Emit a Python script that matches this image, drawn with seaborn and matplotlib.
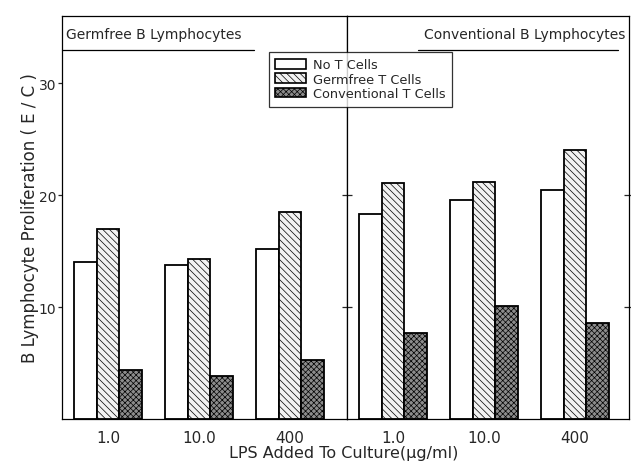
import matplotlib
matplotlib.use("Agg")
import matplotlib.pyplot as plt
import seaborn as sns
import pandas as pd
from matplotlib.patches import Patch

# --- data ---------------------------------------------------------------
lps_labels = ["1.0", "10.0", "400"]
t_cell_groups = ["No T Cells", "Germfree T Cells", "Conventional T Cells"]

germfree_b_none = [14.0, 13.8, 15.2]
germfree_b_germfree_t = [17.0, 14.3, 18.5]
germfree_b_conventional_t = [4.4, 3.8, 5.3]

conventional_b_none = [18.3, 19.6, 20.5]
conventional_b_germfree_t = [21.1, 21.2, 24.0]
conventional_b_conventional_t = [7.7, 10.1, 8.6]

panel_titles = ["Germfree B Lymphocytes", "Conventional B Lymphocytes"]


def make_frame(none, gf, conv):
    rows = []
    for series, vals in zip(t_cell_groups, [none, gf, conv]):
        for lab, v in zip(lps_labels, vals):
            rows.append({"lps": lab, "tcells": series, "value": v})
    return pd.DataFrame(rows)


frames = [
    make_frame(germfree_b_none, germfree_b_germfree_t, germfree_b_conventional_t),
    make_frame(conventional_b_none, conventional_b_germfree_t, conventional_b_conventional_t),
]

# --- styling ------------------------------------------------------------
sns.set_theme(style="ticks")
plt.rcParams["font.family"] = ["DejaVu Sans"]
plt.rcParams["hatch.linewidth"] = 0.5

styles = {
    "No T Cells": dict(facecolor="white", hatch=None),
    "Germfree T Cells": dict(facecolor="#f2f2f2", hatch="\\\\\\\\\\"),
    "Conventional T Cells": dict(facecolor="#8c8c8c", hatch="xxxxxx"),
}

fig = plt.figure(figsize=(6.31, 4.64), dpi=100)
gs = fig.add_gridspec(1, 2, width_ratios=[285, 282], wspace=0,
                      left=0.0983, right=0.997, bottom=0.0948, top=0.963)
axes = [fig.add_subplot(gs[0, 0]), fig.add_subplot(gs[0, 1])]

for i, (ax, df) in enumerate(zip(axes, frames)):
    sns.barplot(data=df, x="lps", y="value", hue="tcells", order=lps_labels,
                hue_order=t_cell_groups, width=0.75, ax=ax, legend=False,
                edgecolor="black", linewidth=1.3, saturation=1)
    for cont, name in zip(ax.containers, t_cell_groups):
        for bar in cont:
            bar.set_facecolor(styles[name]["facecolor"])
            bar.set_hatch(styles[name]["hatch"])
            bar.set_edgecolor("black")
    ax.set_ylim(0, 36)
    ax.set_xlabel("")
    ax.set_ylabel("")
    for s in ax.spines.values():
        s.set_linewidth(0.9)
        s.set_color("black")
    ax.tick_params(axis="x", length=0, labelsize=11, pad=8)
    ax.set_yticks([10, 20, 30])

axes[0].set_xlim(-0.505, 2.626)
axes[1].set_xlim(-0.505, 2.594)

axes[0].tick_params(axis="y", direction="out", length=3, labelsize=10,
                    width=0.9, pad=1)
axes[1].tick_params(axis="y", which="both", direction="inout", length=7,
                    left=True, right=True, labelleft=False, width=0.9)
axes[1].set_yticks([10, 20])

# panel titles with underline
axes[0].text(0.015, 0.955, panel_titles[0], transform=axes[0].transAxes,
             ha="left", va="center", fontsize=10)
axes[0].plot([0.0, 0.675], [0.915, 0.915], transform=axes[0].transAxes,
             color="black", lw=0.9, clip_on=False)
axes[1].text(0.985, 0.955, panel_titles[1], transform=axes[1].transAxes,
             ha="right", va="center", fontsize=10)
axes[1].plot([0.25, 0.96], [0.915, 0.915], transform=axes[1].transAxes,
             color="black", lw=0.9, clip_on=False)

fig.text(30 / 631, 0.53, "B Lymphocyte Proliferation ( E / C )",
         rotation=90, ha="center", va="center", fontsize=12)
fig.text(0.545, 1 - 454 / 464, "LPS Added To Culture(μg/ml)", ha="center",
         va="center", fontsize=11.5)

handles = [Patch(facecolor=styles[n]["facecolor"], hatch=styles[n]["hatch"],
                 edgecolor="black", linewidth=1.2, label=n)
           for n in t_cell_groups]
leg = fig.legend(handles=handles, loc="upper left",
                 bbox_to_anchor=(269 / 631, 1 - 53 / 464), borderaxespad=0,
                 fontsize=9.3, frameon=True, fancybox=False,
                 handlelength=2.4, handleheight=0.8, labelspacing=0.1,
                 borderpad=0.5, handletextpad=0.5)
leg.get_frame().set_edgecolor("black")
leg.get_frame().set_linewidth(0.9)

fig.savefig("out.png", dpi=100)
